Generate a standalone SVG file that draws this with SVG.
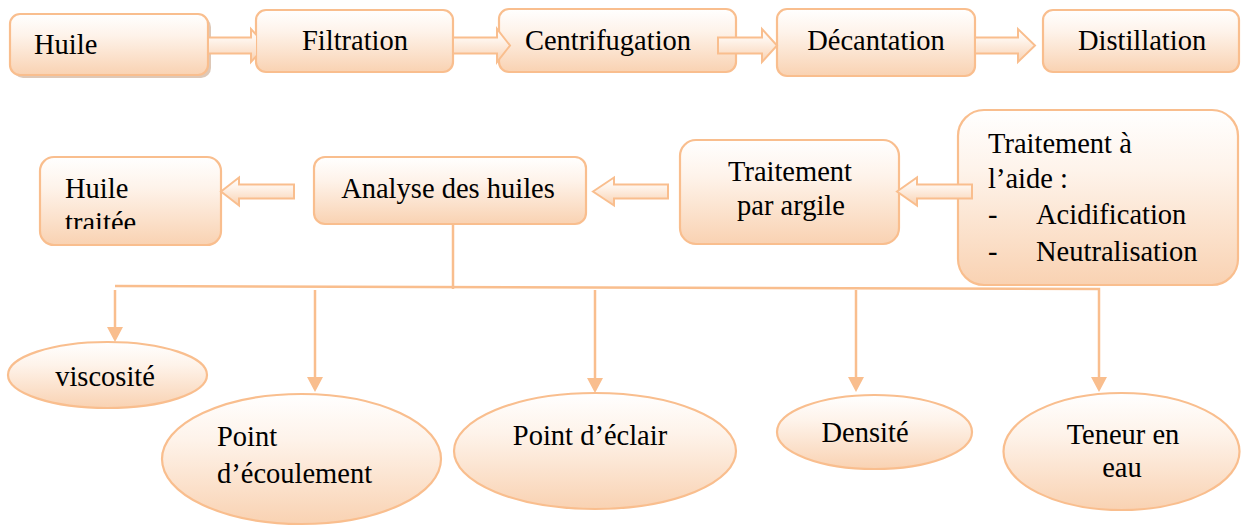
<svg xmlns="http://www.w3.org/2000/svg" width="1241" height="526" viewBox="0 0 1241 526">
<defs>
<linearGradient id="peach" x1="0" y1="0" x2="0" y2="1">
<stop offset="0" stop-color="#FFFFFF"/>
<stop offset="0.35" stop-color="#FEF3EA"/>
<stop offset="1" stop-color="#F9D2B2"/>
</linearGradient>
<marker id="tri" viewBox="0 0 15 16" refX="0" refY="8" markerWidth="15" markerHeight="16" markerUnits="userSpaceOnUse" orient="auto">
<path d="M0,0 L15,8 L0,16 Z" fill="#F9BE8E"/>
</marker>
<clipPath id="clipA1"><rect x="200" y="0" width="56" height="90"/></clipPath>
<clipPath id="clipHT"><rect x="40" y="157" width="181" height="72"/></clipPath>
</defs>
<style>
.box{fill:url(#peach);stroke:#F9BE8E;stroke-width:2.2}
.t{font-family:'Liberation Serif','Tinos','Times New Roman','Nimbus Roman','DejaVu Serif','Noto Serif',serif;font-size:28.5px;fill:#000}
.m{text-anchor:middle}
.conn{fill:none;stroke:#F9BE8E;stroke-width:2.5}
.blk{fill:url(#peach);stroke:#F9BE8E;stroke-width:2}
</style>
<rect width="1241" height="526" fill="#FFFFFF"/>

<g id="nodes">
<g id="n-huile">
<rect x="13" y="17" width="198" height="61" rx="10" fill="#C8A387" opacity="0.6"/>
<rect class="box" x="10" y="14" width="198" height="61" rx="10"/>
<text class="t" x="34" y="54">Huile</text>
</g>
<g id="n-filtration">
<rect class="box" x="256" y="10" width="197" height="62" rx="10"/>
<text class="t m" x="355" y="50">Filtration</text>
</g>
<g id="n-centrifugation">
<rect class="box" x="499" y="9" width="237" height="63" rx="10"/>
<text class="t m" x="608" y="50">Centrifugation</text>
</g>
<g id="n-decantation">
<rect class="box" x="777" y="9" width="198" height="67" rx="10"/>
<text class="t m" x="876" y="50">Décantation</text>
</g>
<g id="n-distillation">
<rect class="box" x="1043" y="10" width="196" height="62" rx="10"/>
<text class="t m" x="1142" y="50">Distillation</text>
</g>
<g id="n-huile-traitee">
<rect class="box" x="40" y="157" width="181" height="88" rx="14"/>
<g clip-path="url(#clipHT)">
<text class="t" x="65" y="198">Huile</text>
<text class="t" x="65" y="232">traitée</text>
</g>
</g>
<g id="n-analyse">
<rect class="box" x="314" y="157" width="272" height="67" rx="11"/>
<text class="t m" x="448" y="198">Analyse des huiles</text>
</g>
<g id="n-argile">
<rect class="box" x="680" y="140" width="219" height="104" rx="16"/>
<text class="t m" x="790" y="181">Traitement</text>
<text class="t m" x="791" y="215">par argile</text>
</g>
<g id="n-aide">
<rect class="box" x="958" y="110" width="280" height="175" rx="26"/>
<text class="t" x="988" y="153">Traitement à</text>
<text class="t" x="988" y="188">l’aide :</text>
<text class="t" x="988" y="224">-</text>
<text class="t" x="1036" y="224">Acidification</text>
<text class="t" x="988" y="261">-</text>
<text class="t" x="1036" y="261">Neutralisation</text>
</g>
<g id="n-viscosite">
<ellipse class="box" cx="107.5" cy="375" rx="99.5" ry="33"/>
<text class="t m" x="105" y="386">viscosité</text>
</g>
<g id="n-ecoulement">
<ellipse class="box" cx="301.5" cy="459" rx="139.5" ry="65"/>
<text class="t" x="217" y="446">Point</text>
<text class="t" x="217" y="483">d’écoulement</text>
</g>
<g id="n-eclair">
<ellipse class="box" cx="595" cy="451" rx="141" ry="58"/>
<text class="t m" x="590" y="445">Point d’éclair</text>
</g>
<g id="n-densite">
<ellipse class="box" cx="874.5" cy="432" rx="97.5" ry="37"/>
<text class="t m" x="865" y="442">Densité</text>
</g>
<g id="n-teneur">
<ellipse class="box" cx="1121.5" cy="451.5" rx="118" ry="58.5"/>
<text class="t m" x="1123" y="444">Teneur en</text>
<text class="t m" x="1122" y="477">eau</text>
</g>
</g>

<g id="connectors">
<path class="blk" clip-path="url(#clipA1)" d="M208,37.5 L251,37.5 L251,29 L266,45.5 L251,62 L251,53.5 L208,53.5 Z"/>
<path class="blk" d="M453,37.5 L497,37.5 L497,29 L510,45.5 L497,62 L497,53.5 L453,53.5 Z"/>
<path class="blk" d="M718,37.5 L762,37.5 L762,29 L777,45.5 L762,62 L762,53.5 L718,53.5 Z"/>
<path class="blk" d="M975,37.5 L1018,37.5 L1018,29 L1035,45.5 L1018,62 L1018,53.5 L975,53.5 Z"/>
<path class="blk" d="M897,191.5 L917,177.5 L917,184.5 L972,184.5 L972,198.5 L917,198.5 L917,205.5 Z"/>
<path class="blk" d="M593,191.5 L614,177.5 L614,184.5 L668,184.5 L668,198.5 L614,198.5 L614,205.5 Z"/>
<path class="blk" d="M221,191.5 L239,177.5 L239,184.5 L294,184.5 L294,198.5 L239,198.5 L239,205.5 Z"/>
<path class="conn" d="M453,224 L453,289"/>
<path class="conn" d="M115,286 L1099,289 L1099,377" marker-end="url(#tri)"/>
<path class="conn" d="M115,290 L115,327" marker-end="url(#tri)"/>
<path class="conn" d="M315,290 L315,377" marker-end="url(#tri)"/>
<path class="conn" d="M595,290 L595,378" marker-end="url(#tri)"/>
<path class="conn" d="M856,290 L856,377" marker-end="url(#tri)"/>
</g>
</svg>
